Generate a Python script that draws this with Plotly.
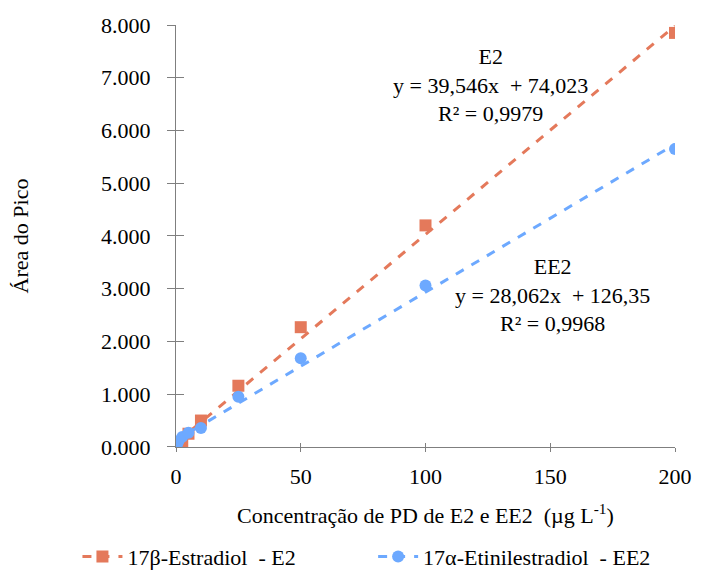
import plotly.graph_objects as go

# Concentrations (µg/L) and peak areas
conc = [0.5, 1, 2.5, 5, 10, 25, 50, 100, 200]
area_e2 = [20, 40, 90, 250, 500, 1160, 2270, 4200, 7850]
area_ee2 = [60, 110, 190, 270, 360, 950, 1680, 3060, 5650]

# Linear fits (slope, intercept, R²)
fit_e2 = (39.546, 74.023, 0.9979)
fit_ee2 = (28.062, 126.35, 0.9968)

y_ticks = [0, 1000, 2000, 3000, 4000, 5000, 6000, 7000, 8000]
y_tick_text = ["0.000", "1.000", "2.000", "3.000", "4.000", "5.000", "6.000", "7.000", "8.000"]
x_ticks = [0, 50, 100, 150, 200]

c_e2 = "#E4795B"
c_ee2 = "#6DA9FF"
font_family = "Liberation Serif"

fig = go.Figure()

def add_series(name, ys, fit, color, symbol, legend_id):
    slope, icpt, _ = fit
    xs = [min(conc), max(conc)]
    fig.add_trace(go.Scatter(
        x=xs, y=[slope * v + icpt for v in xs], mode="lines",
        line=dict(color=color, width=3, dash="dash"),
        showlegend=False, hoverinfo="skip"))
    fig.add_trace(go.Scatter(
        x=conc, y=ys, mode="markers",
        marker=dict(color=color, symbol=symbol, size=12),
        showlegend=False))
    # legend entry: dashed line with marker
    fig.add_trace(go.Scatter(
        x=[None], y=[None], mode="lines+markers", name=name, legend=legend_id,
        line=dict(color=color, width=3, dash="dash"),
        marker=dict(color=color, symbol=symbol, size=12)))

add_series("17β-Estradiol  - E2", area_e2, fit_e2, c_e2, "square", "legend")
add_series("17α-Etinilestradiol  - EE2", area_ee2, fit_ee2, c_ee2, "circle", "legend2")

# invisible trace on the overlay axes (inner half of the cross ticks)
fig.add_trace(go.Scatter(x=[None], y=[None], xaxis="x2", yaxis="y2",
                         showlegend=False, hoverinfo="skip"))

def fmt(v, nd):
    return f"{v:.{nd}f}".replace(".", ",")

fig.add_annotation(
    x=126, y=6860, xref="x", yref="y", showarrow=False, align="center",
    text=f"E2<br>y = {fmt(fit_e2[0], 3)}x  + {fmt(fit_e2[1], 3)}<br>R² = {fmt(fit_e2[2], 4)}",
    font=dict(family=font_family, size=22, color="#000000"))
fig.add_annotation(
    x=151, y=2880, xref="x", yref="y", showarrow=False, align="center",
    text=f"EE2<br>y = {fmt(fit_ee2[0], 3)}x  + {fmt(fit_ee2[1], 2)}<br>R² = {fmt(fit_ee2[2], 4)}",
    font=dict(family=font_family, size=22, color="#000000"))

axis_common = dict(showgrid=False, zeroline=False, linecolor="#7f7f7f", linewidth=1.2,
                   tickcolor="#7f7f7f", tickwidth=1.2)

legend_common = dict(orientation="h", xref="container", yref="container",
                     xanchor="left", y=0.035, yanchor="middle",
                     font=dict(size=22), itemwidth=40, bgcolor="rgba(0,0,0,0)")

fig.update_layout(
    width=704, height=577,
    margin=dict(l=176, r=21, t=25, b=126),
    paper_bgcolor="white", plot_bgcolor="white",
    font=dict(family=font_family, size=22, color="#000000"),
    xaxis=dict(range=[0, 200], tickvals=x_ticks, showline=True, ticks="outside", ticklen=4,
               ticklabelstandoff=6,
               title=dict(text="Concentração de PD de E2 e EE2  (µg L<sup>-1</sup>)",
                          font=dict(size=22), standoff=19),
               **axis_common),
    yaxis=dict(range=[0, 8000], tickvals=y_ticks, ticktext=y_tick_text, showline=True,
               ticks="outside", ticklen=8, ticklabelstandoff=12,
               title=dict(text="Área do Pico", font=dict(size=22), standoff=66),
               **axis_common),
    xaxis2=dict(range=[0, 200], tickvals=x_ticks, overlaying="x", side="bottom", anchor="y2",
                ticks="inside", ticklen=4, showticklabels=False, showline=False,
                showgrid=False, zeroline=False, tickcolor="#7f7f7f", tickwidth=1.2),
    yaxis2=dict(range=[0, 8000], tickvals=y_ticks, overlaying="y", side="left", anchor="x2",
                ticks="inside", ticklen=8, showticklabels=False, showline=False,
                showgrid=False, zeroline=False, tickcolor="#7f7f7f", tickwidth=1.2),
    legend=dict(x=0.11, **legend_common),
    legend2=dict(x=0.53, **legend_common),
)

fig.write_html("out.html")
